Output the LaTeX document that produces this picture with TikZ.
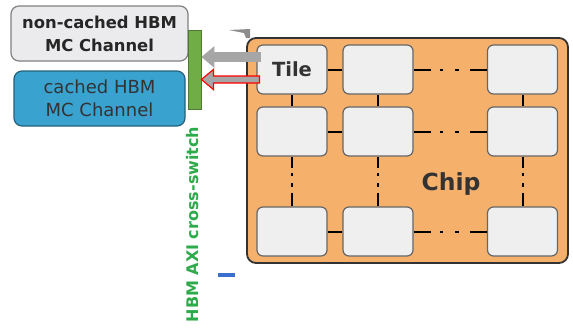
\documentclass[tikz,border=0pt]{standalone}
\usepackage{fontspec}
\setmainfont{DejaVu Sans}
\usetikzlibrary{arrows.meta,calc}
\definecolor{chiporange}{HTML}{F5B06C}
\definecolor{tilegray}{HTML}{EFEFEF}
\definecolor{mcblue}{HTML}{3AA2CF}
\definecolor{mcgray}{HTML}{EBEBEE}
\definecolor{axigreen}{HTML}{70AD47}
\definecolor{axitext}{HTML}{2FAA4A}
\definecolor{arrowgray}{HTML}{A6A6A6}
\definecolor{markblue}{HTML}{3A6FD0}

\begin{document}
\begin{tikzpicture}[x=1pt, y=-1pt,
  chipbox/.style={draw=black!80, fill=chiporange, line width=1.8pt, rounded corners=9pt, minimum width=321pt, minimum height=225pt},
  tilebox/.style={draw=black!60, fill=tilegray, line width=1.2pt, rounded corners=6pt, minimum width=70pt, minimum height=49pt, font=\fontsize{19.5}{20}\selectfont\bfseries, text=black!80},
  mcbox/.style={line width=1.2pt, rounded corners=8pt, align=center, minimum height=55pt},
  link/.style={line width=2pt, black},
  hdots/.style={link, dash pattern=on 17pt off 9pt on 3.5pt off 12pt on 3.5pt off 11pt on 30pt},
  vdots/.style={link, dash pattern=on 11pt off 5pt on 3.5pt off 7pt on 3.5pt off 6pt on 30pt},
  grayarrow/.style={arrowgray, line width=10pt, -{Triangle[length=13pt, width=21pt]}}
]
\useasboundingbox (0,0) rectangle (573,327);

% memory controllers and switch
\node[mcbox, draw=black!50, fill=mcgray, minimum width=177pt, font=\fontsize{16.4}{23}\selectfont\bfseries, text=black!85] (noncached) at (99.5,33.5) {non-cached HBM\\MC Channel};
\node[mcbox, draw=mcblue!60!black, fill=mcblue, minimum width=171pt, font=\fontsize{18}{23}\selectfont, text=black!80] (cached) at (99.5,98.5) {cached HBM\\MC Channel};
\node[draw=axigreen!70!black, fill=axigreen, line width=0.8pt, minimum width=13pt, minimum height=79pt, inner sep=0pt] (bar) at (194.5,69.5) {};
\node[rotate=90, text=axitext, font=\fontsize{16}{18}\selectfont\bfseries] (axilabel) at (193,224.5) {HBM AXI cross-switch};

% chip with tiles
\node[chipbox] (chip) at (407.5,150.5) {};
\node[tilebox] (t11) at (292,69.5) {Tile};
\node[tilebox] (t12) at (378,69.5) {};
\node[tilebox] (t13) at (522.5,69.5) {};
\node[tilebox] (t21) at (292,131.5) {};
\node[tilebox] (t22) at (378,131.5) {};
\node[tilebox] (t23) at (522.5,131.5) {};
\node[tilebox] (t31) at (292,231.5) {};
\node[tilebox] (t32) at (378,231.5) {};
\node[tilebox] (t33) at (522.5,231.5) {};
\node[font=\fontsize{23.5}{24}\selectfont\bfseries, text=black!80] (chiplabel) at (451,184) {Chip};

\draw[link] (t11) -- (t12);
\draw[link] (t21) -- (t22);
\draw[link] (t31) -- (t32);
\draw[link] (t11) -- (t21);
\draw[link] (t12) -- (t22);
\draw[link] (t13) -- (t23);
\draw[hdots] (t12) -- (t13);
\draw[hdots] (t22) -- (t23);
\draw[hdots] (t32) -- (t33);
\draw[vdots] (t21) -- (t31);
\draw[vdots] (t22) -- (t32);
\draw[vdots] (t23) -- (t33);

% requests from the tile
\coordinate (upA) at (0,57);
\coordinate (lowA) at (0,79.5);
\draw[grayarrow] ($(t11.west |- upA)+(5,0)$) -- (bar.east |- upA);
\draw[red, fill=arrowgray, line width=1.2pt]
  ($(t11.west |- lowA)+(3,-3.5)$) -- ($(bar.east |- lowA)+(12,-3.5)$) -- ($(bar.east |- lowA)+(12,-10)$)
  -- (bar.east |- lowA) -- ($(bar.east |- lowA)+(12,10)$) -- ($(bar.east |- lowA)+(12,3.5)$)
  -- ($(t11.west |- lowA)+(3,3.5)$) -- cycle;

% small marks
\fill[black!45] (229,30) -- (250,29) -- (250,38) -- (246,38) -- (244,33) -- cycle;
\fill[markblue] (218,273) rectangle (235,277);
\end{tikzpicture}
\end{document}
